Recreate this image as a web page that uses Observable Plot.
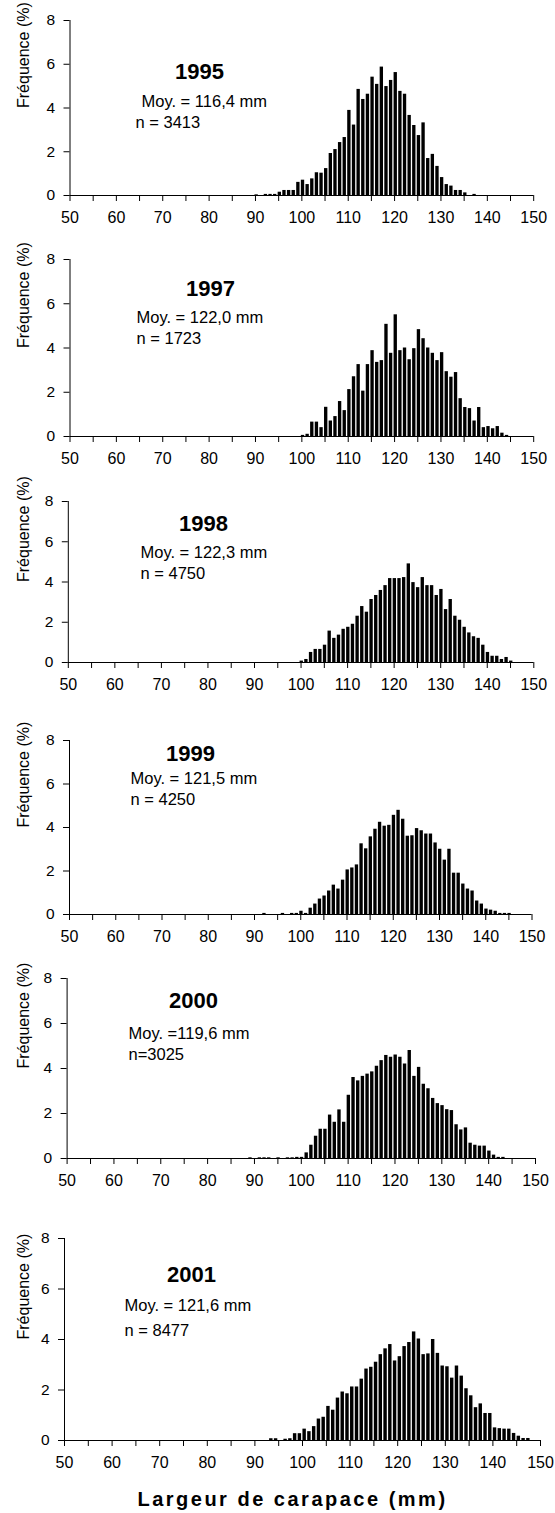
<!DOCTYPE html>
<html><head><meta charset="utf-8">
<script src="https://cdn.jsdelivr.net/npm/d3@7"></script>
<script src="https://cdn.jsdelivr.net/npm/@observablehq/plot@0.6"></script>
<style>
body{margin:0;background:#fff;font-family:Arial,"Liberation Sans",sans-serif;}
#root{position:relative;width:555px;height:1513px;overflow:hidden;background:#fff;}
.panel{position:absolute;left:0;}
#xtitle{position:absolute;left:0;width:585px;text-align:center;font:bold 20px Arial,"Liberation Sans",sans-serif;letter-spacing:2.5px;line-height:22px;}
</style>
</head><body><div id="root"><div id="xtitle">Largeur de carapace (mm)</div></div>
<script>
// Carapace width classes (mm)
const carapace = [88,89,90,91,92,93,94,95,96,97,98,99,100,101,102,103,104,105,106,107,108,109,110,111,112,113,114,115,116,117,118,119,120,121,122,123,124,125,126,127,128,129,130,131,132,133,134,135,136,137,138,139,140,141,142,143,144,145,146,147,148];
const years = ["1995","1997","1998","1999","2000","2001"];
const means = ["Moy. = 116,4 mm","Moy. = 122,0 mm","Moy. = 122,3 mm","Moy. = 121,5 mm","Moy. =119,6 mm","Moy. = 121,6 mm"];
const counts = ["n = 3413","n = 1723","n = 4750","n = 4250","n=3025","n = 8477"];
// Frequencies (%) per width class (88 ... 148 mm)
const freq1995 = [0,0,0.03,0,0.05,0.05,0.05,0.15,0.23,0.23,0.23,0.6,0.7,0.5,0.76,1.04,1.02,1.23,1.92,2.1,2.42,2.65,3.89,3.22,4.85,4.39,4.63,5.41,5.08,5.87,4.98,5.26,5.62,4.76,4.63,3.66,3.2,2.74,3.32,1.69,1.88,1.33,0.82,0.5,0.43,0.23,0.23,0.12,0,0.05,0,0,0,0,0,0,0,0,0,0,0];
const freq1997 = [0,0,0,0,0,0,0,0,0,0,0,0,0.05,0.1,0.65,0.65,0.4,1.32,0.7,0.9,1.58,1.17,2.12,2.7,3.25,2.05,3.25,3.88,3.35,3.43,5.07,3.76,5.5,3.88,4.0,3.47,3.97,4.83,4.42,4.0,3.76,3.43,3.79,2.93,2.68,2.89,1.71,1.31,1.26,0.7,1.31,0.4,0.45,0.35,0.45,0.15,0.05,0,0,0,0];
const freq1998 = [0,0,0,0,0,0,0,0,0,0,0,0,0.07,0.15,0.5,0.65,0.65,0.86,1.56,1.2,1.36,1.65,1.75,1.9,2.3,2.78,2.5,3.13,3.33,3.58,3.82,4.17,4.17,4.17,4.22,4.9,3.97,3.72,4.22,3.82,3.82,3.33,3.63,2.63,3.13,2.3,2.1,1.75,1.47,1.28,1.2,0.86,0.5,0.31,0.31,0.15,0.25,0.07,0,0,0];
const freq1999 = [0,0,0,0,0.05,0,0,0,0.05,0,0.05,0.05,0.15,0.05,0.29,0.48,0.71,0.85,1.08,1.35,1.17,1.58,2.05,2.14,2.28,3.25,3.02,3.57,3.92,4.24,4.06,4.1,4.56,4.79,4.38,3.6,3.62,3.95,3.85,3.7,3.7,3.29,3.0,2.5,3.0,1.9,1.9,1.4,1.17,1.08,0.62,0.48,0.25,0.2,0.15,0.05,0.05,0.05,0,0,0];
const freq2000 = [0,0.03,0,0.03,0.03,0.03,0,0.03,0,0.03,0.03,0.05,0.05,0.25,0.59,0.99,1.3,1.3,1.93,1.61,2.16,1.61,2.81,3.6,3.45,3.65,3.75,3.85,4.1,4.35,4.58,4.5,4.6,4.5,4.2,4.8,3.65,4.05,3.3,3.1,2.67,2.44,2.35,2.17,2.13,1.5,1.27,1.36,0.68,0.59,0.55,0.55,0.33,0.15,0.05,0.05,0,0,0,0,0];
const freq2001 = [0,0,0,0,0,0.07,0.07,0,0.05,0.07,0.27,0.27,0.45,0.35,0.55,0.85,0.92,1.35,1.2,1.68,1.92,1.85,2.12,2.12,2.43,2.83,2.9,3.1,3.4,3.63,3.8,3.15,3.32,3.72,3.88,4.3,4.02,3.4,3.43,4.0,3.45,2.95,2.92,2.47,2.95,2.55,2.05,1.77,1.3,1.45,1.07,1.07,0.5,0.47,0.45,0.45,0.28,0.17,0.08,0.08,0];
const freqs = [freq1995,freq1997,freq1998,freq1999,freq2000,freq2001];
const yTicks = [0,2,4,6,8];
const xMajor = [50,60,70,80,90,100,110,120,130,140,150];
const xMinor = [55,65,75,85,95,105,115,125,135,145];

// panel geometry (pixels) and label placement
const layout = [
  {yTop:20,  yBase:195,  x0:69.5, x1:533.2, shift:0.25, year:[199,71],   mean:[141,101],  n:[135,122]},
  {yTop:259, yBase:436,  x0:69.5, x1:533.2, shift:0.25, year:[210,288],  mean:[136,317],  n:[136,338]},
  {yTop:501, yBase:662,  x0:67.8, x1:533.3, shift:0.15, year:[203,523],  mean:[140,552],  n:[140,573]},
  {yTop:740, yBase:914,  x0:69,   x1:531.5, shift:0.15, year:[190,753],  mean:[130,778],  n:[130,799]},
  {yTop:978, yBase:1158, x0:66.6, x1:535,   shift:0.15, year:[193,1000], mean:[128,1033], n:[128,1054]},
  {yTop:1238,yBase:1440, x0:64,   x1:540,   shift:0.45, year:[191,1274], mean:[124,1305], n:[124,1330]}
];

const root = document.getElementById("root");
years.forEach((yr, i) => {
  const L = layout[i];
  const top = L.yTop - 14;
  const height = L.yBase - top + 42;
  const data = carapace.map((c, j) => ({c, f: freqs[i][j]})).filter(d => d.f > 0);
  const chart = Plot.plot({
    width: 555,
    height,
    marginTop: L.yTop - top,
    marginBottom: height - (L.yBase - top),
    marginLeft: L.x0,
    marginRight: 555 - L.x1,
    style: {fontFamily: "Arial, 'Liberation Sans', sans-serif", background: "transparent", overflow: "visible", color: "black"},
    x: {domain: [50, 150]},
    y: {domain: [0, 8]},
    marks: [
      Plot.rectY(data, {x1: d => d.c + L.shift - 0.36, x2: d => d.c + L.shift + 0.36, y1: 0, y2: "f", fill: "black"}),
      Plot.ruleY([0], {stroke: "black", strokeWidth: 1}),
      Plot.ruleX([50], {stroke: "black", strokeWidth: 1}),
      Plot.axisX({ticks: xMajor, tickSize: 6, tickPadding: 10, fontSize: 16, stroke: "black", fill: "black", tickFormat: d => String(d), label: null}),
      Plot.axisX({ticks: xMinor, tickSize: 6, stroke: "black", tickFormat: () => "", label: null}),
      Plot.axisY({ticks: yTicks, tickSize: 6, tickPadding: 9, fontSize: 15.5, stroke: "black", fill: "black", tickFormat: d => String(d), label: null}),
      Plot.text(["Fréquence (%)"], {frameAnchor: "left", dx: 23 - L.x0, rotate: -90, fontSize: 16, fill: "black", style: "letter-spacing:1.4px"}),
      Plot.text([yr], {frameAnchor: "top-left", dx: L.year[0] - L.x0, dy: L.year[1] - L.yTop, lineAnchor: "middle", textAnchor: "middle", fontSize: 22, fontWeight: "bold", fill: "black"}),
      Plot.text([means[i]], {frameAnchor: "top-left", dx: L.mean[0] - L.x0, dy: L.mean[1] - L.yTop, lineAnchor: "middle", textAnchor: "start", fontSize: 16.5, fill: "black"}),
      Plot.text([counts[i]], {frameAnchor: "top-left", dx: L.n[0] - L.x0, dy: L.n[1] - L.yTop, lineAnchor: "middle", textAnchor: "start", fontSize: 16.5, fill: "black"})
    ]
  });
  chart.classList.add("panel");
  chart.style.top = top + "px";
  root.appendChild(chart);
});
document.getElementById("xtitle").style.top = "1488px";
</script>
</body></html>
